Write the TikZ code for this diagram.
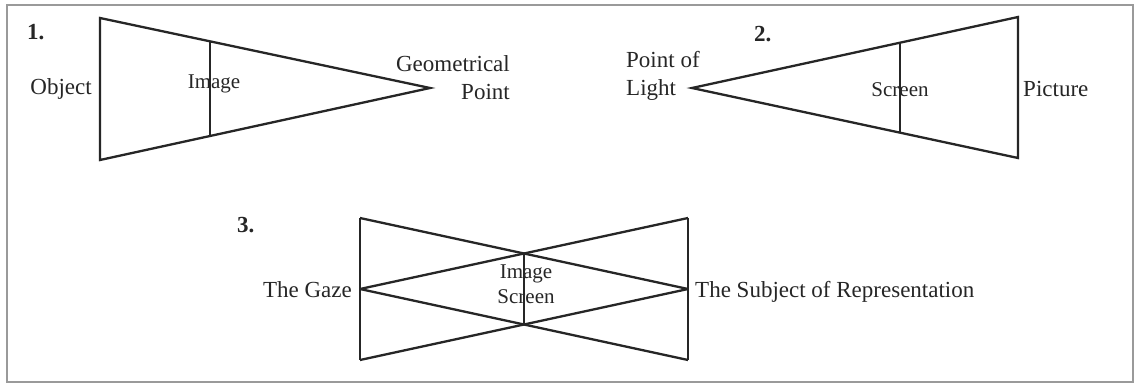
\documentclass[tikz,border=0pt]{standalone}
\usepackage{fontspec}
\setmainfont{Liberation Serif}
\usetikzlibrary{calc}
\definecolor{ink}{HTML}{262626}
\definecolor{framecol}{HTML}{9A9A9A}
\tikzset{
  shapeline/.style={draw=ink, line width=2.3pt, line join=miter},
  framebox/.style={draw=framecol, line width=2pt},
  lbl/.style={inner sep=0pt, text=ink, font=\fontsize{23}{27}\selectfont},
  inlbl/.style={inner sep=0pt, text=ink, font=\fontsize{21}{24}\selectfont},
  numlbl/.style={inner sep=0pt, text=ink, font=\fontsize{23}{27}\selectfont\bfseries}
}
\begin{document}
\begin{tikzpicture}[x=1pt,y=-1pt]
\useasboundingbox (0,0) rectangle (1137,385);
\fill[white] (0,0) rectangle (1137,385);
\draw[framebox] (7,5) rectangle (1133,382);

% ---------- Diagram 1 ----------
\coordinate (o1t) at (100,18);
\coordinate (o1b) at (100,160);
\coordinate (a1) at (430,88);
\coordinate (i1t) at ($(o1t)!1/3!(a1)$);
\coordinate (i1b) at ($(o1b)!1/3!(a1)$);
\draw[shapeline] (o1t) -- (a1) -- (o1b) -- cycle;
\draw[shapeline] (i1t) -- (i1b);
\node[numlbl, anchor=base west] (n1) at (27,40) {1.};
\node[lbl, anchor=base east] (obj) at (92,95) {Object};
\node[inlbl, anchor=base] (img1) at (214,89) {Image};
\node[lbl, anchor=base east] (geo) at (510,72) {Geometrical};
\node[lbl, anchor=base east] (pt1) at (510,100) {Point};

% ---------- Diagram 2 ----------
\coordinate (a2) at (692,88);
\coordinate (p2t) at (1018,17);
\coordinate (p2b) at (1018,158);
\coordinate (s2t) at ($(a2)!0.638!(p2t)$);
\coordinate (s2b) at ($(a2)!0.638!(p2b)$);
\draw[shapeline] (a2) -- (p2t) -- (p2b) -- cycle;
\draw[shapeline] (s2t) -- (s2b);
\node[numlbl, anchor=base west] (n2) at (754,42) {2.};
\node[lbl, anchor=base west] (pof) at (626,68) {Point of};
\node[lbl, anchor=base west] (lig) at (626,96) {Light};
\node[inlbl, anchor=base] (scr2) at (900,97) {Screen};
\node[lbl, anchor=base west] (pic) at (1023,97) {Picture};

% ---------- Diagram 3 ----------
\coordinate (lt) at (360,218);
\coordinate (lb) at (360,360);
\coordinate (g) at (360,289);
\coordinate (rt) at (688,218);
\coordinate (rb) at (688,360);
\coordinate (s) at (688,289);
\coordinate (ct) at ($(lt)!0.5!(s)$);
\coordinate (cb) at ($(lb)!0.5!(s)$);
\draw[shapeline] (lt) -- (lb);
\draw[shapeline] (rt) -- (rb);
\draw[shapeline] (lt) -- (s);
\draw[shapeline] (lb) -- (s);
\draw[shapeline] (g) -- (rt);
\draw[shapeline] (g) -- (rb);
\draw[shapeline] (ct) -- (cb);
\node[numlbl, anchor=base west] (n3) at (237,232) {3.};
\node[lbl, anchor=base east] (gaze) at (352,297) {The Gaze};
\node[inlbl, anchor=base] (img3) at (526,278) {Image};
\node[inlbl, anchor=base] (scr3) at (526,303) {Screen};
\node[lbl, anchor=base west] (subj) at (695,297) {The Subject of Representation};
\end{tikzpicture}
\end{document}
